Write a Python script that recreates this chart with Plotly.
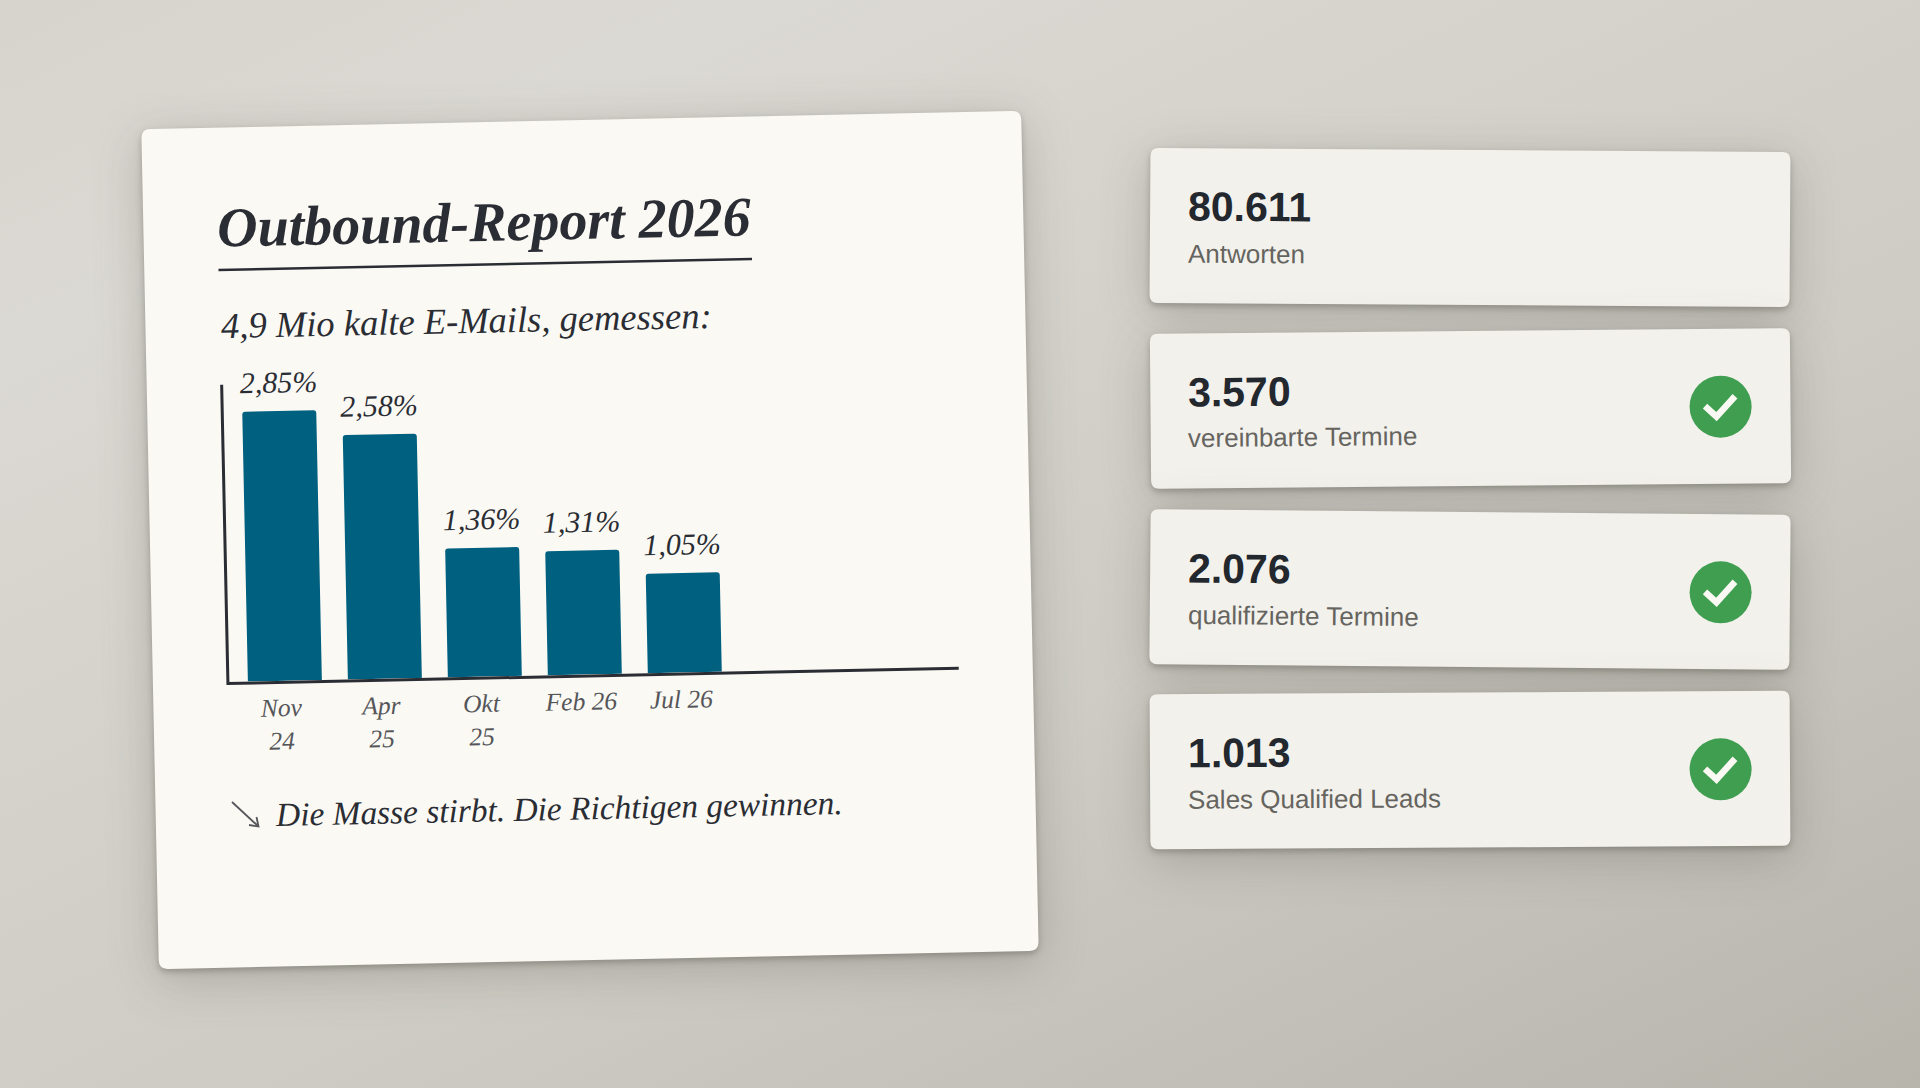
import math
import plotly.graph_objects as go

W, H = 1920, 1088

# ---- data ----
periods = ["Nov 24", "Apr 25", "Okt 25", "Feb 26", "Jul 26"]
period_labels = ["Nov<br>24", "Apr<br>25", "Okt<br>25", "Feb 26", "Jul 26"]
reply_rates = [2.85, 2.58, 1.36, 1.31, 1.05]
rate_labels = ["2,85%", "2,58%", "1,36%", "1,31%", "1,05%"]

kpi_values = ["80.611", "3.570", "2.076", "1.013"]
kpi_names = ["Antworten", "vereinbarte Termine", "qualifizierte Termine", "Sales Qualified Leads"]
kpi_checked = [False, True, True, True]

title_text = "Outbound-Report 2026"
subtitle_text = "4,9 Mio kalte E-Mails, gemessen:"
footer_text = "Die Masse stirbt. Die Richtigen gewinnen."

# ---- styles ----
HAND = "Liberation Serif"
SANS = "Liberation Sans"
INK = "#2a2d34"
BAR = "#006080"
PAPER = "#fbf9f3"
TILE = "#f2f1ec"
GREEN = "#3f9e50"
MUTED = "#66645f"
TICK = "#55565a"

CHART_ANGLE = -1.2
PIVOT = (589, 540)


def px(x):
    return x / W


def py(y):
    return 1 - y / H


def rounded_path(cx, cy, w, h, r, deg):
    t = math.radians(deg)
    c, s = math.cos(t), math.sin(t)

    def P(u, v):
        return f"{px(cx + u * c - v * s):.6f},{py(cy + u * s + v * c):.6f}"

    a, b = w / 2, h / 2
    return (
        f"M{P(-a + r, -b)} L{P(a - r, -b)} Q{P(a, -b)} {P(a, -b + r)} "
        f"L{P(a, b - r)} Q{P(a, b)} {P(a - r, b)} "
        f"L{P(-a + r, b)} Q{P(-a, b)} {P(-a, b - r)} "
        f"L{P(-a, -b + r)} Q{P(-a, -b)} {P(-a + r, -b)} Z"
    )


def paper_shape(path, **kw):
    return dict(type="path", xref="paper", yref="paper", path=path, **kw)


def note(text, x, y, size, color, family=HAND, angle=0, anchor="left", style="normal", weight="normal"):
    return dict(
        text=text, x=px(x), y=py(y), xref="paper", yref="paper",
        xanchor=anchor, yanchor="middle", showarrow=False, textangle=angle,
        font=dict(family=family, size=size, color=color, style=style, weight=weight),
    )


# ---- geometry of the tiles (screen pixels) ----
tile_centres = [(1470, 227.5), (1470.5, 408.5), (1470, 589.5), (1470, 770)]
tile_angles = [0.36, -0.5, 0.5, -0.3]
value_y = [207.5, 391.5, 568.5, 753.0]
name_y = [253.5, 437, 615.5, 798.5]
circle_y = [None, 406.7, 592.3, 769.3]

shapes = [
    paper_shape(rounded_path(590, 540, 880, 840, 9, CHART_ANGLE), fillcolor=PAPER, line=dict(width=0), layer="below")
]
for (cx, cy), ang in zip(tile_centres, tile_angles):
    shapes.append(paper_shape(rounded_path(cx, cy, 640, 155, 8, ang), fillcolor=TILE, line=dict(width=0), layer="below"))

# title underline
shapes.append(paper_shape(f"M{px(218.5)},{py(270)} L{px(752)},{py(259)}", line=dict(color=INK, width=2.6), layer="below"))

# small arrow before the closing sentence
shapes.append(paper_shape(f"M{px(232)},{py(802)} L{px(258)},{py(826)}", line=dict(color=TICK, width=1.8), layer="below"))
shapes.append(paper_shape(f"M{px(256.5)},{py(817)} L{px(258.5)},{py(826.5)} L{px(249)},{py(825)}", line=dict(color=TICK, width=1.8), layer="below"))

# check badges
for cy, checked in zip(circle_y, kpi_checked):
    if not checked:
        continue
    shapes.append(dict(type="circle", xref="paper", yref="paper",
                       x0=px(1720.6 - 31), x1=px(1720.6 + 31), y0=py(cy + 31), y1=py(cy - 31),
                       fillcolor=GREEN, line=dict(width=0), layer="below"))
    shapes.append(paper_shape(
        f"M{px(1705)},{py(cy - 0.5)} L{px(1716.5)},{py(cy + 10)} L{px(1735)},{py(cy - 10.5)}",
        line=dict(color=PAPER, width=6.5), layer="below"))

annotations = [
    note(title_text, 214.5, 222, 56, INK, angle=CHART_ANGLE, style="italic", weight="bold"),
    note(subtitle_text, 219, 320, 36.5, INK, angle=CHART_ANGLE, style="italic"),
    note(footer_text, 273, 808, 33.4, INK, angle=CHART_ANGLE, style="italic"),
]
for i in range(4):
    annotations.append(note(kpi_values[i], 1185.5, value_y[i], 41, "#23272e", family=SANS, angle=tile_angles[i], weight="bold"))
    annotations.append(note(kpi_names[i], 1185.5, name_y[i], 26, MUTED, family=SANS, angle=tile_angles[i]))

fig = go.Figure()
fig.add_trace(go.Bar(
    x=periods, y=reply_rates, marker=dict(color=BAR, line=dict(width=0)),
    hoverinfo="skip", showlegend=False,
))
fig.add_trace(go.Scatter(
    x=periods, y=reply_rates, mode="markers+text", text=rate_labels,
    textposition="top center", cliponaxis=False,
    textfont=dict(family=HAND, size=30, color=INK, style="italic"),
    marker=dict(size=16, opacity=0), hoverinfo="skip", showlegend=False,
))

fig.update_layout(
    width=W, height=H, autosize=False,
    margin=dict(l=0, r=0, t=0, b=0),
    paper_bgcolor="rgba(0,0,0,0)", plot_bgcolor="rgba(0,0,0,0)",
    bargap=0.26, barcornerradius=3,
    shapes=shapes, annotations=annotations,
    xaxis=dict(
        domain=[226.5 / W, 956 / W], type="category", categoryorder="array", categoryarray=periods,
        range=[-0.555, 6.74], tickmode="array", tickvals=periods, ticktext=period_labels,
        showgrid=False, zeroline=False, ticks="", ticklabelstandoff=2, ticklabelshift=-4,
        showline=True, linecolor=INK, linewidth=2.6,
        tickfont=dict(family=HAND, size=25.5, color=TICK, style="italic"),
    ),
    yaxis=dict(
        domain=[1 - 674.4 / H, 1 - 377 / H], range=[0, 3.14],
        showgrid=False, zeroline=False, showticklabels=False, ticks="",
        showline=True, linecolor=INK, linewidth=2.6,
    ),
)

post = f"""
document.documentElement.style.height = '100%';
document.body.style.margin = '0';
document.body.style.overflow = 'hidden';
document.body.style.background = 'linear-gradient(155deg,#d6d4cd 0%,#dbd9d3 18%,#cdcbc3 62%,#b8b5ad 100%)';
document.querySelectorAll('.subplot.xy').forEach(function (g) {{
  g.setAttribute('transform', 'rotate({CHART_ANGLE} {PIVOT[0]} {PIVOT[1]})');
  g.querySelectorAll('path').forEach(function (p) {{ p.style.shapeRendering = 'geometricPrecision'; }});
}});
document.querySelectorAll('.shapelayer path').forEach(function (p) {{
  p.style.shapeRendering = 'geometricPrecision';
}});
document.querySelectorAll('.shapelayer path[data-index]').forEach(function (p) {{
  if (+p.getAttribute('data-index') < 5) {{
    p.style.filter = 'drop-shadow(0 3px 3px rgba(60,58,50,.32)) drop-shadow(0 10px 24px rgba(60,58,50,.24))';
  }}
}});
"""

fig.write_html("out.html", post_script=post, config=dict(displayModeBar=False))
